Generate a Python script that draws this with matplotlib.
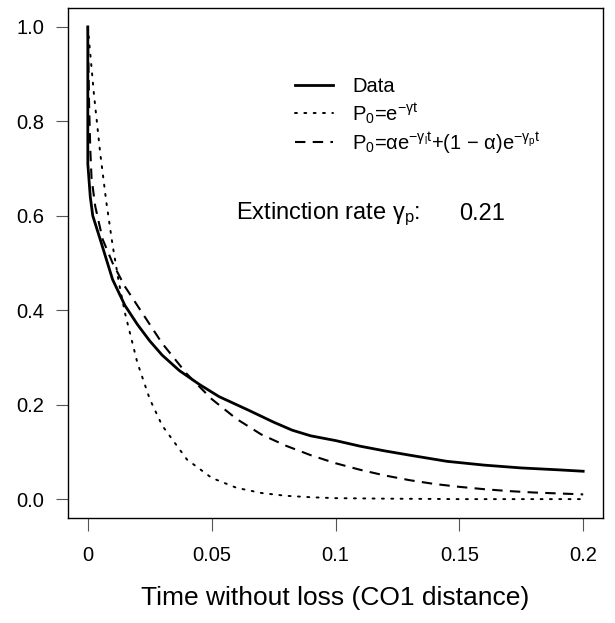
import matplotlib
matplotlib.use("Agg")
import matplotlib.pyplot as plt

plt.rcParams["font.family"] = ["Liberation Sans", "DejaVu Sans"]
plt.rcParams["mathtext.fontset"] = "custom"
plt.rcParams["mathtext.rm"] = "Liberation Sans"
plt.rcParams["mathtext.it"] = "Liberation Sans"
plt.rcParams["mathtext.bf"] = "Liberation Sans:bold"

data_t = [0.0, 0.0, 0.001, 0.002, 0.005, 0.010, 0.015, 0.020, 0.025, 0.030,
          0.037, 0.045, 0.053, 0.065, 0.075, 0.0825, 0.090, 0.100, 0.110,
          0.120, 0.130, 0.145, 0.160, 0.175, 0.190, 0.200]
data_p = [1.0, 0.71, 0.64, 0.60, 0.55, 0.465, 0.41, 0.37, 0.335, 0.305,
          0.272, 0.243, 0.217, 0.188, 0.163, 0.146, 0.134, 0.124, 0.112,
          0.102, 0.093, 0.080, 0.072, 0.066, 0.062, 0.059]

# Single exponential fit
single_t = [0.0, 0.0025, 0.005, 0.0075, 0.010, 0.0125, 0.015, 0.020, 0.025,
            0.030, 0.040, 0.050, 0.060, 0.070, 0.080, 0.090, 0.100, 0.120,
            0.150, 0.200]
single_p = [1.0, 0.856, 0.733, 0.628, 0.538, 0.46, 0.394, 0.289, 0.212,
            0.156, 0.084, 0.045, 0.024, 0.013, 0.007, 0.004, 0.002, 0.001,
            0.0, 0.0]

# Two-component exponential fit
double_t = [0.0, 0.0005, 0.001, 0.0015, 0.003, 0.006, 0.010, 0.015, 0.020,
            0.030, 0.040, 0.050, 0.060, 0.070, 0.080, 0.090, 0.100, 0.110,
            0.120, 0.130, 0.140, 0.150, 0.160, 0.170, 0.180, 0.190, 0.200]
double_p = [1.0, 0.84, 0.74, 0.68, 0.62, 0.55, 0.50, 0.45, 0.41,
            0.33, 0.265, 0.212, 0.170, 0.137, 0.113, 0.093, 0.076, 0.062,
            0.050, 0.040, 0.032, 0.026, 0.021, 0.017, 0.014, 0.012, 0.010]

x_ticks = [0, 0.05, 0.1, 0.15, 0.2]
x_labels = ["0", "0.05", "0.1", "0.15", "0.2"]
y_ticks = [0.0, 0.2, 0.4, 0.6, 0.8, 1.0]
y_labels = ["0.0", "0.2", "0.4", "0.6", "0.8", "1.0"]

extinction_rate = "0.21"

fig = plt.figure(figsize=(6.15, 6.23), dpi=100)
ax = fig.add_axes([68 / 615, 1 - 518 / 623, 535 / 615, 510 / 623])

ax.plot(data_t, data_p, color="black", lw=2.0, label="Data")
ax.plot(single_t, single_p, color="black", lw=1.4, dashes=(1, 3.8),
        dash_capstyle="round", label=r"P$_0$=e$^{-\gamma t}$")
ax.plot(double_t, double_p, color="black", lw=1.5, dashes=(5, 3.5),
        label=r"P$_0$=$\alpha$e$^{-\gamma_l t}$+(1 $-$ $\alpha$)e$^{-\gamma_p t}$")

ax.set_xlim(-0.008, 0.208)
ax.set_ylim(-0.04, 1.04)
ax.set_xticks(x_ticks)
ax.set_xticklabels(x_labels)
ax.set_yticks(y_ticks)
ax.set_yticklabels(y_labels)
ax.tick_params(axis="both", direction="out", length=9, width=0.8,
               labelsize=14.5, color="#555555")
ax.tick_params(axis="x", pad=11)
ax.tick_params(axis="y", pad=8)
for sp in ax.spines.values():
    sp.set_linewidth(1.0)

ax.set_xlabel("Time without loss (CO1 distance)", fontsize=19, labelpad=15)

ax.legend(loc="upper left", bbox_to_anchor=(0.424, 0.864), frameon=False,
          fontsize=14.5, handlelength=1.9, handletextpad=0.95,
          labelspacing=0.22, borderpad=0, borderaxespad=0)

ax.text(0.060, 0.603, r"Extinction rate $\gamma_p$:", fontsize=17,
        va="center", ha="left")
ax.text(0.150, 0.603, extinction_rate, fontsize=17, va="center", ha="left")

fig.savefig("out.png", dpi=100)
